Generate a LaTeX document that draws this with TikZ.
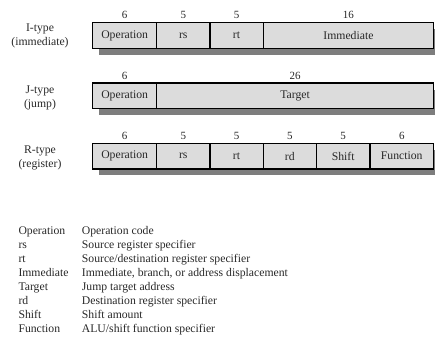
\documentclass[tikz,border=0pt]{standalone}
\usepackage{fontspec}
\setmainfont{Liberation Serif}
\usepackage{xcolor}
\definecolor{fieldgray}{RGB}{220,220,220}
\definecolor{shadowgray}{RGB}{125,125,125}
\definecolor{inkgray}{RGB}{40,40,40}
\usetikzlibrary{positioning,backgrounds}

\begin{document}
\begin{tikzpicture}[x=1pt, y=-1pt,
  field/.style={rectangle, draw=black, line width=1.4pt, fill=fieldgray,
                minimum height=25.5pt, inner sep=0pt, outer sep=0pt,
                font=\fontsize{11.7}{14}\selectfont, text=inkgray},
  w6/.style={minimum width=63.9pt},
  w5/.style={minimum width=53.3pt},
  w16/.style={minimum width=170.5pt},
  w26/.style={minimum width=277.1pt},
  bits/.style={inner sep=0pt, font=\fontsize{11}{13}\selectfont, text=inkgray},
  kind/.style={align=center, inner sep=0pt,
               font=\fontsize{11.7}{14}\selectfont, text=inkgray},
  legend/.style={inner sep=0pt, font=\fontsize{11.7}{14.1}\selectfont,
                 text=inkgray},
  shade/.style={fill=shadowgray}
]
\useasboundingbox (0,0) rectangle (435,338);

% Row labels
\node[kind] (itype) at (40,36.3)  {I-type\\(immediate)};
\node[kind] (jtype) at (40,98.3)  {J-type\\(jump)};
\node[kind] (rtype) at (40,158.3) {R-type\\(register)};

% I-type fields
\node[field, w6, anchor=north west] (iop) at (92.7,22.7) {Operation};
\node[field, w5,  right=0pt of iop] (irs)  {rs};
\node[field, w5,  right=0pt of irs] (irt)  {rt};
\node[field, w16, right=0pt of irt] (iimm) {Immediate};

% J-type fields
\node[field, w6, anchor=north west] (jop) at (92.7,83) {Operation};
\node[field, w26, right=0pt of jop] (jtgt) {Target};

% R-type fields
\node[field, w6, anchor=north west] (rop) at (92.7,143.3) {Operation};
\node[field, w5, right=0pt of rop]  (rrs)   {rs};
\node[field, w5, right=0pt of rrs]  (rrt)   {rt};
\node[field, w5, right=0pt of rrt]  (rrd)   {rd};
\node[field, w5, right=0pt of rrd]  (rsh)   {Shift};
\node[field, w6, right=0pt of rsh]  (rfn)   {Function};

% Bit counts
\node[bits] (iopn)  at ([yshift=7.5pt]iop.north)  {6};
\node[bits] (irsn)  at ([yshift=7.5pt]irs.north)  {5};
\node[bits] (irtn)  at ([yshift=7.5pt]irt.north)  {5};
\node[bits] (iimmn) at ([yshift=7.5pt]iimm.north) {16};
\node[bits] (jopn)  at ([yshift=7.5pt]jop.north)  {6};
\node[bits] (jtgtn) at ([yshift=7.5pt]jtgt.north) {26};
\node[bits] (ropn)  at ([yshift=7.5pt]rop.north)  {6};
\node[bits] (rrsn)  at ([yshift=7.5pt]rrs.north)  {5};
\node[bits] (rrtn)  at ([yshift=7.5pt]rrt.north)  {5};
\node[bits] (rrdn)  at ([yshift=7.5pt]rrd.north)  {5};
\node[bits] (rshn)  at ([yshift=7.5pt]rsh.north)  {5};
\node[bits] (rfnn)  at ([yshift=7.5pt]rfn.north)  {6};

% Drop shadows
\begin{scope}[on background layer]
  \fill[shade] ([shift={(6,6.5)}]iop.north west) rectangle ([shift={(6,6.5)}]iimm.south east);
  \fill[shade] ([shift={(6,6.5)}]jop.north west) rectangle ([shift={(6,6.5)}]jtgt.south east);
  \fill[shade] ([shift={(6,6.5)}]rop.north west) rectangle ([shift={(6,6.5)}]rfn.south east);
\end{scope}

% Legend
\node[legend, anchor=base west] (key) at (18.3,234) {%
  \begin{tabular}[t]{@{}p{63.4pt}@{}l@{}}
  Operation & Operation code\\
  rs        & Source register specifier\\
  rt        & Source/destination register specifier\\
  Immediate & Immediate, branch, or address displacement\\
  Target    & Jump target address\\
  rd        & Destination register specifier\\
  Shift     & Shift amount\\
  Function  & ALU/shift function specifier
  \end{tabular}};
\end{tikzpicture}
\end{document}
